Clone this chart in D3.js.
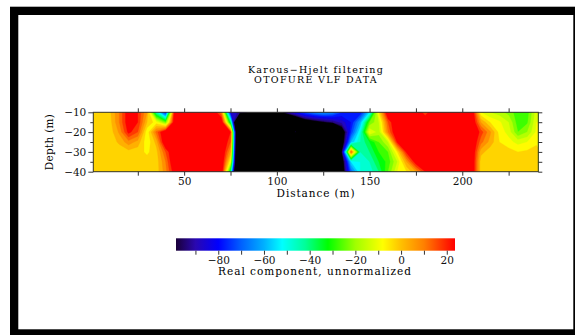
<!DOCTYPE html>
<html>
<head>
<meta charset="utf-8">
<script src="https://cdn.jsdelivr.net/npm/d3@7"></script>
<style>
  html, body { margin: 0; padding: 0; background: #fff; }
  svg { display: block; }
</style>
</head>
<body>
<svg id="chart" width="576" height="335"></svg>
<script>
// ==================== DATA ====================
const distances = [0, 5, 10, 15, 20, 25, 30, 35, 40, 45, 50, 55, 60, 65, 70, 75, 80, 85, 90, 95,
  100, 105, 110, 115, 120, 125, 130, 135, 140, 145, 150, 155, 160, 165, 170, 175, 180, 185, 190, 195,
  200, 205, 210, 215, 220, 225, 230, 235, 240];
const depths = [-10, -15, -20, -25, -30, -35, -40];

// one row per depth, one value per distance
const realComponent = [
  [-3, -3, -1, 10, 25, 20, 5, -45, -80, 30, 30, 30, 30, 30, 10, -85, -92, -100, -150, -150,
    -110, -92, -82, -72, -65, -62, -65, -75, -80, -80, -55, -5, 30, 30, 30, 30, 15, 30, 30, 30,
    30, 30, -10, -15, -18, -22, -28, -28, -12],
  [-3, -3, -2, 10, 25, 20, 0, -8, -25, 30, 30, 30, 30, 30, 30, -40, -200, -200, -200, -200,
    -200, -150, -125, -110, -105, -100, -95, -88, -80, -60, -25, -15, 15, 30, 30, 30, 30, 30, 30, 30,
    30, 30, 5, -5, -9, -15, -28, -26, -10],
  [-3, -3, -3, 6, 22, 15, -9, 12, 30, 30, 30, 30, 30, 30, 30, 20, -200, -200, -200, -200,
    -200, -200, -96, -200, -200, -200, -200, -110, -75, -50, -9, -18, 10, 30, 30, 30, 30, 30, 30, 30,
    30, 30, 18, 6, -7, -12, -25, -20, -9],
  [-3, -3, -3, 1, 8, 3, -9, 2, 30, 30, 30, 30, 30, 30, 30, 15, -200, -200, -200, -200,
    -200, -200, -200, -200, -200, -200, -200, -110, -60, -45, -35, -25, -15, 22, 30, 30, 30, 30, 30, 30,
    30, 30, 12, 3, -5, -8, -12, -10, -6],
  [-3, -3, -3, -3, -2, -3, -6, -2, 15, 30, 30, 30, 30, 30, 30, 5, -200, -200, -200, -200,
    -200, -200, -200, -200, -200, -200, -200, -100, 14, -45, -40, -30, -25, -5, 22, 30, 30, 30, 30, 30,
    30, 30, 2, -3, -3, -3, -5, -4, -3],
  [-3, -3, -3, -3, -3, -3, -3, -3, 10, 30, 30, 30, 30, 30, 30, -10, -200, -200, -200, -200,
    -200, -200, -200, -200, -200, -200, -200, -110, -55, -50, -45, -35, -28, -15, 5, 25, 30, 30, 30, 30,
    30, 30, -3, -3, -3, -3, -3, -3, -3],
  [-3, -3, -3, -3, -3, -3, -3, -3, 8, 25, 30, 30, 30, 30, 30, -40, -200, -200, -200, -200,
    -200, -200, -200, -200, -200, -200, -200, -110, -70, -50, -48, -40, -25, -10, -5, 5, 20, 30, 30, 30,
    30, 30, -3, -3, -3, -3, -3, -3, -3]
];

const xMajorTicks = [50, 100, 150, 200];
const xMinorTicks = [25, 75, 125, 175, 225];
const yMajorTicks = [-10, -20, -30, -40];
const yMinorTicks = [-15, -25, -35];
const cbMajorTicks = [-80, -60, -40, -20, 0, 20];
const cbMinorTicks = [-90, -70, -50, -30, -10, 10];

const cmapValues = [-98.5, -90, -80, -70, -60, -52, -42, -32, -20, -8, 0, 10, 20, 23.6];
const cmapColors = ['#1a0038', '#2a08b0', '#0000ff', '#0060ff', '#00b0ff', '#00ffff', '#00ff99',
  '#00ff00', '#a0ff00', '#ffff00', '#ffc000', '#ff8000', '#ff2000', '#ff0000'];

const titleLines = ['Karous\u2212Hjelt filtering', 'OTOFURE VLF DATA'];

// ==================== SETUP ====================
const svg = d3.select('#chart');
const FONT = 'DejaVu Serif, Liberation Serif, serif';
const plot = { left: 93.3, right: 538.3, top: 112.3, bottom: 171.7 };

// outer frame
svg.append('rect').attr('x', 10).attr('y', 6.7).attr('width', 565).attr('height', 328.3).attr('fill', '#000');
svg.append('rect').attr('x', 18.3).attr('y', 15).attr('width', 555).attr('height', 314.3).attr('fill', '#fff');

// ==================== SCALES ====================
const x = d3.scaleLinear().domain([1, 241]).range([plot.left, plot.right]);
const y = d3.scaleLinear().domain([-10, -40]).range([plot.top, plot.bottom]);

const color = d3.scaleLinear().domain(cmapValues).range(cmapColors).clamp(true);

// ==================== CONTOURS ====================
const n = distances.length;
const m = depths.length;
const values = [];
realComponent.forEach(row => row.forEach(v => values.push(v)));

const thresholds = [-1000, -98].concat(d3.range(-95, 25, 5));
const contours = d3.contours().size([n, m]).thresholds(thresholds)(values);

const gridX = d3.scaleLinear().domain([0.5, n - 0.5]).range([x(distances[0]), x(distances[n - 1])]);
const gridY = d3.scaleLinear().domain([0.5, m - 0.5]).range([y(depths[0]), y(depths[m - 1])]);
const projection = d3.geoTransform({
  point(px, py) { this.stream.point(gridX(px), gridY(py)); }
});
const path = d3.geoPath(projection);

svg.append('clipPath').attr('id', 'plot-clip')
  .append('rect')
  .attr('x', plot.left).attr('y', plot.top)
  .attr('width', plot.right - plot.left).attr('height', plot.bottom - plot.top);

const bandColor = t => t < -500 ? '#000' : (t >= 20 ? '#ff0000' : color(t === -98 ? -96.5 : t + 2.5));

svg.append('g')
  .attr('clip-path', 'url(#plot-clip)')
  .selectAll('path')
  .data(contours)
  .enter()
  .append('path')
  .attr('d', path)
  .attr('fill', d => bandColor(d.value))
  .attr('stroke', d => bandColor(d.value))
  .attr('stroke-width', 0.3);

// ==================== AXES ====================
const styleAxis = g => {
  g.select('.domain').remove();
  g.selectAll('line').attr('stroke', '#333');
  g.selectAll('text').attr('font-family', FONT).attr('font-size', 10.5).attr('fill', '#111');
};

svg.append('g').attr('transform', `translate(0,${plot.bottom})`)
  .call(d3.axisBottom(x).tickValues(xMajorTicks).tickSize(4).tickPadding(2)).call(styleAxis);
svg.append('g').attr('transform', `translate(0,${plot.bottom})`)
  .call(d3.axisBottom(x).tickValues(xMinorTicks).tickSize(4).tickFormat('')).call(styleAxis);
svg.append('g').attr('transform', `translate(0,${plot.top})`)
  .call(d3.axisTop(x).tickValues(xMajorTicks.concat(xMinorTicks)).tickSize(4).tickFormat('')).call(styleAxis);

svg.append('g').attr('transform', `translate(${plot.left},0)`)
  .call(d3.axisLeft(y).tickValues(yMajorTicks).tickSize(5).tickPadding(2)).call(styleAxis);
svg.append('g').attr('transform', `translate(${plot.left},0)`)
  .call(d3.axisLeft(y).tickValues(yMinorTicks).tickSize(3).tickFormat('')).call(styleAxis);
svg.append('g').attr('transform', `translate(${plot.right},0)`)
  .call(d3.axisRight(y).tickValues(yMajorTicks.concat(yMinorTicks)).tickSize(4).tickFormat('')).call(styleAxis);

svg.append('rect')
  .attr('x', plot.left).attr('y', plot.top)
  .attr('width', plot.right - plot.left).attr('height', plot.bottom - plot.top)
  .attr('fill', 'none').attr('stroke', '#333').attr('stroke-width', 1);

// ==================== TEXTS ====================
svg.append('text').attr('x', 316).attr('y', 197)
  .attr('text-anchor', 'middle').attr('font-family', FONT).attr('font-size', 10.5)
  .attr('letter-spacing', 0.9)
  .text('Distance (m)');

svg.append('text').attr('transform', 'translate(53,142) rotate(-90)')
  .attr('text-anchor', 'middle').attr('font-family', FONT).attr('font-size', 10.5)
  .attr('letter-spacing', 0.3)
  .text('Depth (m)');

svg.selectAll('.title')
  .data(titleLines)
  .enter()
  .append('text')
  .attr('class', 'title')
  .attr('x', 316).attr('y', (d, i) => 73 + i * 10)
  .attr('text-anchor', 'middle').attr('font-family', FONT).attr('font-size', 9.5)
  .attr('letter-spacing', 1.3)
  .text(d => d);

// ==================== COLOR BAR ====================
const cb = { left: 176, right: 455, top: 238.3, bottom: 250.7 };
const cbX = d3.scaleLinear().domain([cmapValues[0], cmapValues[cmapValues.length - 1]]).range([cb.left, cb.right]);

const grad = svg.append('defs').append('linearGradient').attr('id', 'cb-grad');
cmapValues.forEach((v, i) => {
  grad.append('stop')
    .attr('offset', (cbX(v) - cb.left) / (cb.right - cb.left))
    .attr('stop-color', cmapColors[i]);
});

svg.append('rect')
  .attr('x', cb.left).attr('y', cb.top)
  .attr('width', cb.right - cb.left).attr('height', cb.bottom - cb.top)
  .attr('fill', 'url(#cb-grad)');

svg.append('g').attr('transform', `translate(0,${cb.bottom})`)
  .call(d3.axisBottom(cbX).tickValues(cbMajorTicks).tickSize(4).tickPadding(2)).call(styleAxis);
svg.append('g').attr('transform', `translate(0,${cb.bottom})`)
  .call(d3.axisBottom(cbX).tickValues(cbMinorTicks).tickSize(4).tickFormat('')).call(styleAxis);

svg.append('text').attr('x', 315).attr('y', 275)
  .attr('text-anchor', 'middle').attr('font-family', FONT).attr('font-size', 10.5)
  .attr('letter-spacing', 1.0)
  .text('Real component, unnormalized');
</script>
</body>
</html>
